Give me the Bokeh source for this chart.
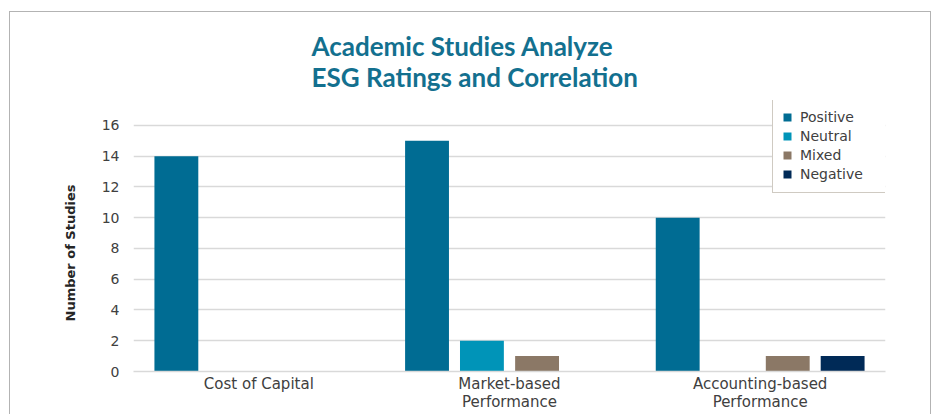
from bokeh.plotting import figure
from bokeh.models import FactorRange, Range1d, FixedTicker, ColumnDataSource, Title
from bokeh.transform import dodge
from bokeh.embed import file_html
from bokeh.resources import INLINE

# ---- data ----
categories = ["Cost of Capital", "Market-based\nPerformance", "Accounting-based\nPerformance"]
series_names = ["Positive", "Neutral", "Mixed", "Negative"]
positive = [14, 15, 10]
neutral = [0, 2, 0]
mixed = [0, 1, 1]
negative = [0, 0, 1]
y_ticks = [0, 2, 4, 6, 8, 10, 12, 14, 16]
title_text = "Academic Studies Analyze\nESG Ratings and Correlation"
y_label = "Number of Studies"

colors = ["#006c93", "#0094b8", "#8b7866", "#002a57"]

source = ColumnDataSource(data=dict(
    cat=categories, Positive=positive, Neutral=neutral, Mixed=mixed, Negative=negative))

# frame: x 133..885, y 100..372 ; value 16 sits at y=125
y_end = 16 * 272 / 247

p = figure(x_range=FactorRange(factors=categories, range_padding=0),
           y_range=Range1d(0, y_end),
           width=935, height=414, output_backend="svg", toolbar_location=None,
           min_border_left=133, min_border_right=50, min_border_top=100, min_border_bottom=42)

p.outline_line_color = None
p.background_fill_color = "white"
p.border_fill_alpha = 0
p.styles = {
    "background": "linear-gradient(#b3b3b3,#b3b3b3) 9px 11px / 1px 100% no-repeat, "
                  "linear-gradient(#b3b3b3,#b3b3b3) 9px 11px / 922px 1px no-repeat, "
                  "linear-gradient(#b3b3b3,#b3b3b3) 930px 11px / 1px 100% no-repeat, white"
}

offsets = [-0.329, -0.110, 0.110, 0.329]
for name, off, col in zip(series_names, offsets, colors):
    p.vbar(x=dodge("cat", off, range=p.x_range), top=name, width=0.175, source=source,
           fill_color=col, line_color=None, legend_label=name)

# title (two lines, above the frame)
p.title.text = title_text
p.title.align = "left"
p.title.offset = 178
p.title.standoff = 14
p.title.text_font = "Lato"
p.title.text_font_size = "26px"
p.title.text_font_style = "bold"
p.title.text_color = "#13708f"
p.title.text_line_height = 0.99

# y axis title as a side title so it can be placed like the reference
ytitle = Title(text=y_label, align="left", offset=50, standoff=42,
               text_font="DejaVu Sans", text_font_size="13px", text_font_style="bold",
               text_color="#262626")
p.add_layout(ytitle, "left")

# axes
p.yaxis.ticker = FixedTicker(ticks=y_ticks)
p.yaxis.axis_line_color = None
p.yaxis.major_tick_line_color = None
p.yaxis.major_tick_out = 0
p.yaxis.minor_tick_line_color = None
p.yaxis.major_label_text_font = "DejaVu Sans"
p.yaxis.major_label_text_font_size = "14px"
p.yaxis.major_label_text_color = "#404040"
p.yaxis.major_label_standoff = 14

p.xaxis.axis_line_color = "#d9d9d9"
p.xaxis.axis_line_width = 1.5
p.xaxis.major_tick_line_color = None
p.xaxis.major_tick_out = 0
p.xaxis.minor_tick_line_color = None
p.xaxis.major_label_text_font = "DejaVu Sans"
p.xaxis.major_label_text_font_size = "15px"
p.xaxis.major_label_text_color = "#404040"
p.xaxis.major_label_text_line_height = 1.05
p.xaxis.major_label_standoff = 3
p.xaxis.major_label_orientation = "horizontal"

p.xgrid.grid_line_color = None
p.ygrid.ticker = FixedTicker(ticks=y_ticks)
p.ygrid.grid_line_color = "#d9d9d9"
p.ygrid.grid_line_width = 1.5

# legend
lg = p.legend[0]
lg.location = (639, 178)
lg.border_line_color = "#a09586"
lg.border_line_width = 1.5
lg.background_fill_color = "white"
lg.background_fill_alpha = 1
lg.label_text_font = "DejaVu Sans"
lg.label_text_font_size = "14px"
lg.label_text_color = "#404040"
lg.glyph_width = 10
lg.glyph_height = 10
lg.label_height = 19
lg.label_standoff = 8
lg.spacing = 0
lg.padding = 9
lg.margin = 0
lg.label_width = 76

open("out.html", "w").write(file_html(p, INLINE))
